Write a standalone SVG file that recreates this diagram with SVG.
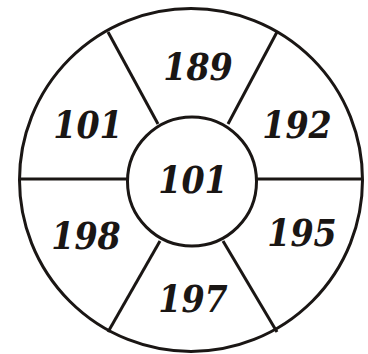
<svg xmlns="http://www.w3.org/2000/svg" width="368" height="354" viewBox="0 0 368 354">
<style>
.ln{stroke:#1a1614;stroke-width:3;fill:none}
.t{font-family:"DejaVu Serif Condensed","DejaVu Serif","Liberation Serif",serif;font-stretch:condensed;font-weight:bold;font-style:italic;font-size:37px;fill:#1a1614;text-anchor:middle}
</style>
<rect width="368" height="354" fill="#fff"/>
<g id="connectors">
<line class="ln" x1="20" y1="179" x2="128" y2="179"/>
<line class="ln" x1="256" y1="179" x2="362" y2="179"/>
<line class="ln" x1="108" y1="32" x2="158" y2="124"/>
<line class="ln" x1="277" y1="32" x2="228" y2="124"/>
<line class="ln" x1="160" y1="241" x2="108" y2="332"/>
<line class="ln" x1="223" y1="241" x2="277" y2="332"/>
</g>
<g id="outer"><circle class="ln" cx="191" cy="180" r="171.5"/></g>
<g id="center"><circle class="ln" cx="192" cy="181.5" r="64.5"/><text class="t" x="193" y="193">101</text></g>
<g id="s189"><text class="t" x="198" y="80">189</text></g>
<g id="s192"><text class="t" x="297" y="138">192</text></g>
<g id="s195"><text class="t" x="302" y="246">195</text></g>
<g id="s197"><text class="t" x="193" y="312">197</text></g>
<g id="s198"><text class="t" x="86" y="249">198</text></g>
<g id="s101"><text class="t" x="88" y="138">101</text></g>
</svg>
